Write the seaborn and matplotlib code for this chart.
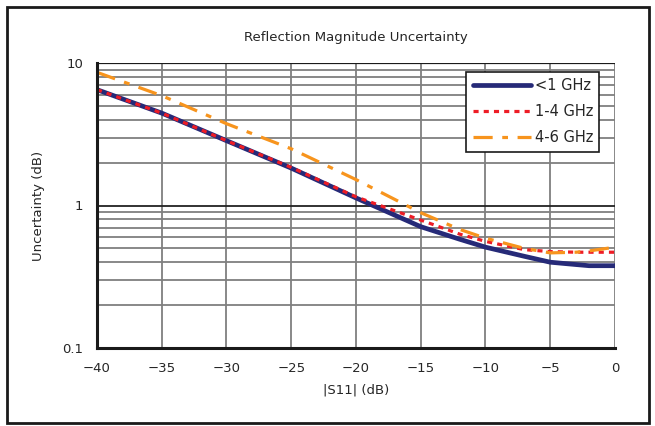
import numpy as np
import pandas as pd
import seaborn as sns
from matplotlib import pyplot as plt
from matplotlib.patches import Rectangle
from matplotlib.ticker import LogLocator, NullFormatter, FixedLocator

# Data
s11_db = [-40, -35, -30, -25, -20, -15, -12, -10, -7, -5, -3, -2, 0]
below_1ghz = [6.5, 4.45, 2.85, 1.83, 1.13, 0.71, 0.58, 0.51, 0.44, 0.40, 0.385, 0.378, 0.378]
ghz_1_4 = [6.5, 4.45, 2.85, 1.85, 1.15, 0.79, 0.63, 0.56, 0.49, 0.475, 0.47, 0.47, 0.47]
ghz_4_6 = [8.6, 5.9, 3.75, 2.5, 1.52, 0.89, 0.68, 0.59, 0.50, 0.465, 0.47, 0.48, 0.51]
bands = ['<1 GHz', '1-4 GHz', '4-6 GHz']

data = pd.DataFrame({
    'S11': s11_db * 3,
    'Uncertainty': below_1ghz + ghz_1_4 + ghz_4_6,
    'Band': [b for b in bands for _ in s11_db],
})

sns.set_style('white')
plt.rcParams['font.family'] = ['DejaVu Sans']
fs = 9.5

fig = plt.figure(figsize=(6.55, 4.26), dpi=100)
ax = fig.add_axes([97 / 655, 1 - 348 / 426, (615 - 97) / 655, (348 - 63) / 426])

palette = {'<1 GHz': '#262a78', '1-4 GHz': '#ee1c25', '4-6 GHz': '#f7941d'}
dashes = {'<1 GHz': '', '1-4 GHz': (1.6, 1.6), '4-6 GHz': (6, 3, 1.8, 3)}
sizes = {'<1 GHz': 3.4, '1-4 GHz': 2.3, '4-6 GHz': 2.3}

sns.lineplot(data=data, x='S11', y='Uncertainty', hue='Band', style='Band',
             size='Band', palette=palette, dashes=dashes, sizes=sizes,
             hue_order=bands, style_order=bands, size_order=bands,
             legend=False, ax=ax)

ax.set_yscale('log')
ax.set_ylim(0.1, 10)
ax.set_xlim(-40, 0)
ax.set_xticks(range(-40, 1, 5))
ax.yaxis.set_major_locator(FixedLocator([0.1, 1, 10]))
ax.set_yticklabels(['0.1', '1', '10'])
ax.yaxis.set_minor_locator(LogLocator(base=10, subs=np.arange(2, 10)))
ax.yaxis.set_minor_formatter(NullFormatter())

ax.grid(True, which='major', axis='y', color='#222222', lw=1.3)
ax.grid(True, which='minor', axis='y', color='#7f7f7f', lw=1.3)
ax.grid(True, which='major', axis='x', color='#7f7f7f', lw=1.3)
ax.set_axisbelow(True)

for side in ['top', 'right']:
    ax.spines[side].set_visible(False)
for side in ['left', 'bottom']:
    ax.spines[side].set_color('#1a1a1a')
    ax.spines[side].set_linewidth(2.2)
ax.axhline(10, color='#1a1a1a', lw=1.6, zorder=1)

ax.tick_params(axis='both', which='major', direction='out', length=4, width=1,
               color='#1a1a1a', labelsize=fs, pad=6)
ax.tick_params(axis='y', which='minor', length=0)

ax.set_title('Reflection Magnitude Uncertainty', fontsize=fs, pad=16)
ax.set_xlabel('|S11| (dB)', fontsize=fs, labelpad=6)
ax.set_ylabel('Uncertainty (dB)', fontsize=fs, labelpad=12)

leg = ax.legend(handles=ax.lines[:3], labels=bands, loc='upper right',
                bbox_to_anchor=(0.97, 0.97), fontsize=10.5, frameon=True,
                fancybox=False, handlelength=4.0, borderpad=0.45,
                labelspacing=0.75, handletextpad=0.25, borderaxespad=0)
leg.get_frame().set_edgecolor('#1a1a1a')
leg.get_frame().set_linewidth(1.2)
leg.get_frame().set_alpha(1)

fig.patches.append(Rectangle((7 / 655, 3 / 426), 642 / 655, 416 / 426,
                             transform=fig.transFigure, fill=False,
                             edgecolor='#1a1a1a', lw=2))

fig.savefig('out.png', dpi=100)
